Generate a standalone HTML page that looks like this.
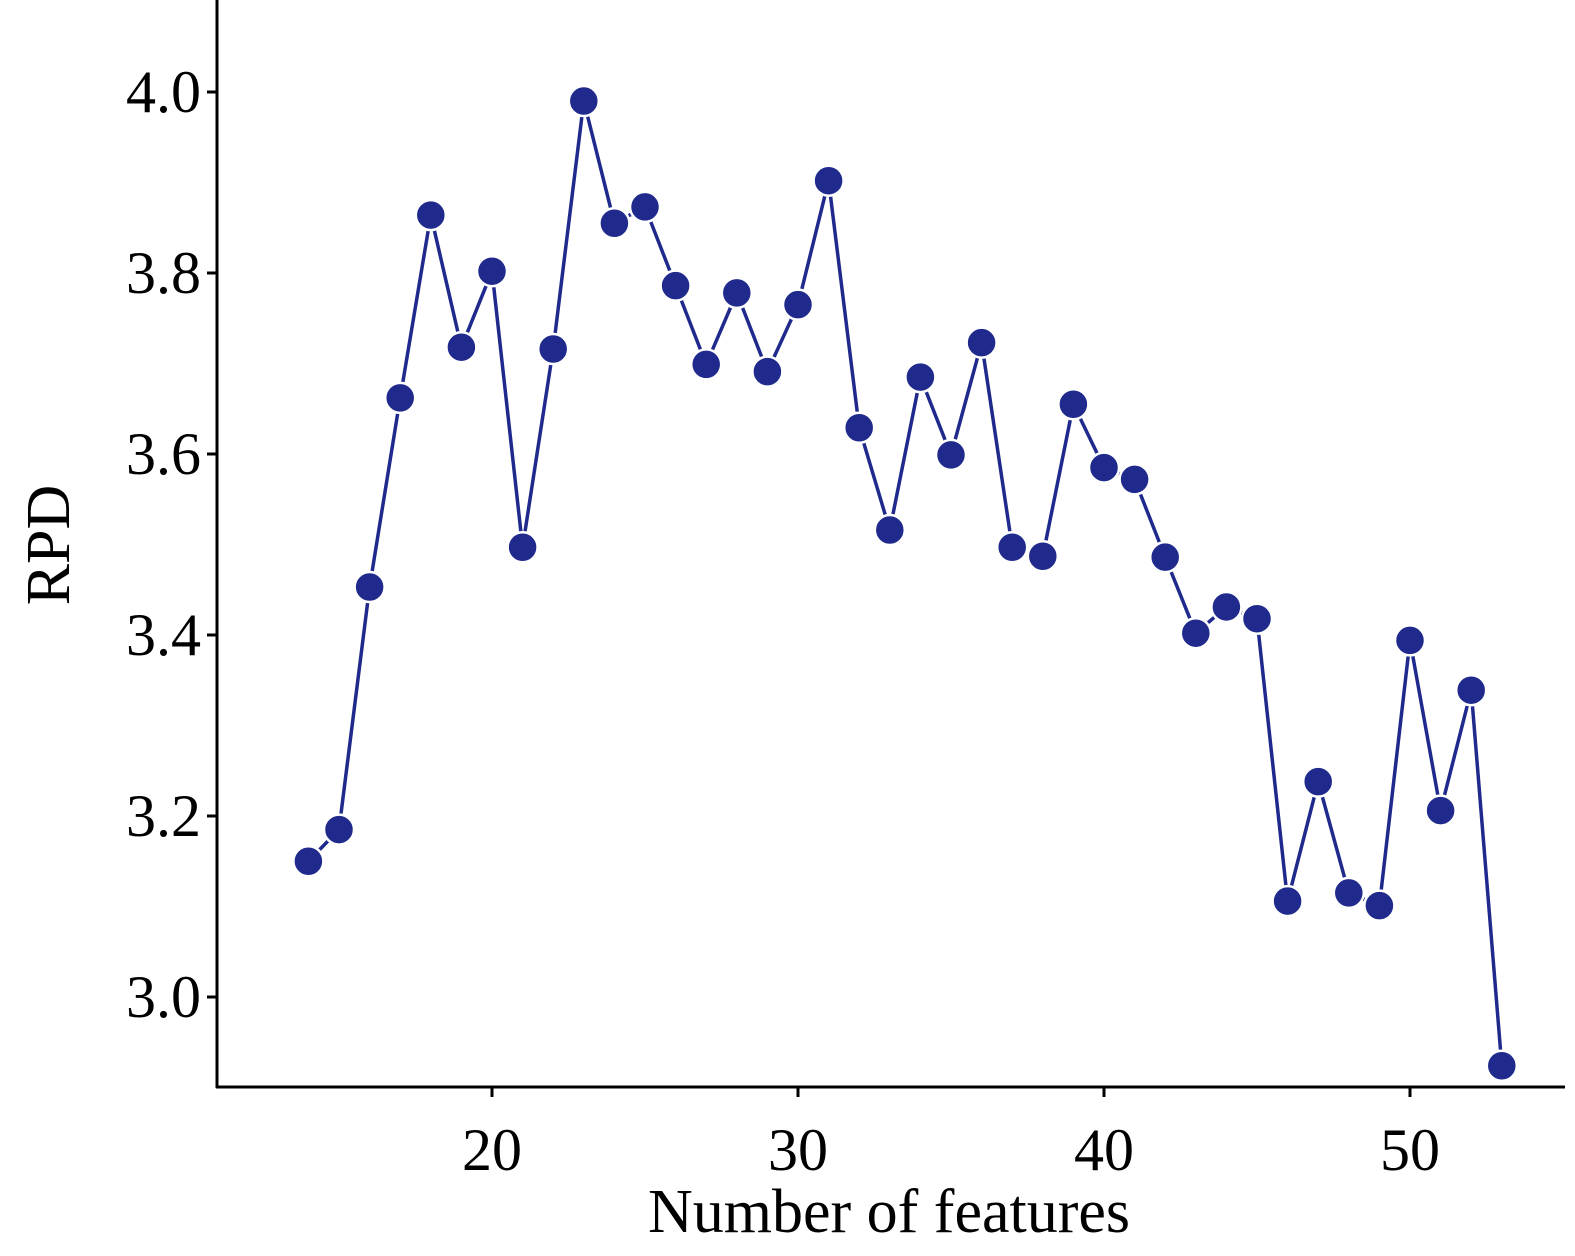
<!DOCTYPE html>
<html><head><meta charset="utf-8"><style>
html,body{margin:0;padding:0;background:#fff;}
svg{display:block;font-family:"Liberation Serif",serif;}
</style></head><body>
<svg id="chart" width="1575" height="1256" viewBox="0 0 1575 1256"></svg>
<script>
const features = [14,15,16,17,18,19,20,21,22,23,24,25,26,27,28,29,30,31,32,33,34,35,36,37,38,39,40,41,42,43,44,45,46,47,48,49,50,51,52,53];
const rpdValues = [3.150,3.185,3.453,3.662,3.864,3.718,3.802,3.497,3.716,3.990,3.855,3.873,3.786,3.699,3.778,3.691,3.765,3.902,3.629,3.516,3.685,3.599,3.723,3.497,3.487,3.655,3.585,3.572,3.486,3.402,3.431,3.418,3.106,3.238,3.115,3.101,3.394,3.206,3.339,2.924];
const yTicks = [3.0,3.2,3.4,3.6,3.8,4.0];
const xTicks = [20,30,40,50];

const NS = "http://www.w3.org/2000/svg";
const svg = document.getElementById('chart');
function xs(v){ return 492 + (v-20)*30.6; }
function ys(v){ return 997 - (v-3.0)*905; }
function mk(tag, attrs){ const e=document.createElementNS(NS,tag); for(const k in attrs) e.setAttribute(k,attrs[k]); svg.appendChild(e); return e; }

const axY = mk('line',{x1:217,y1:0,x2:217,y2:1088,stroke:'#000','stroke-width':3});


const axX = mk('line',{x1:216,y1:1087,x2:1565,y2:1087,stroke:'#000','stroke-width':3});



yTicks.forEach(t=>{
  const y=ys(t);
  const l=mk('line',{x1:207,y1:y,x2:217,y2:y,stroke:'#000','stroke-width':3});
  
  
  const tx=mk('text',{x:201,y:y+20,'text-anchor':'end','font-size':60,fill:'#000'});
  tx.textContent=t.toFixed(1);
  
  
});
xTicks.forEach(t=>{
  const x=xs(t);
  const l=mk('line',{x1:x,y1:1087,x2:x,y2:1097,stroke:'#000','stroke-width':3});
  
  
  const tx=mk('text',{x:x,y:1170,'text-anchor':'middle','font-size':60,fill:'#000'});
  tx.textContent=String(t);
  
  
});

const xt=mk('text',{x:889,y:1232,'text-anchor':'middle','font-size':62,fill:'#000'});
xt.textContent='Number of features';


const yt=mk('text',{x:0,y:0,'text-anchor':'middle','font-size':62,fill:'#000',transform:'translate(69,545) rotate(-90)'});
yt.textContent='RPD';



const pts = features.map((f,i)=>xs(f)+','+ys(rpdValues[i])).join(' ');
const line = mk('polyline',{points:pts,fill:'none',stroke:'#1f2a8c','stroke-width':3.5,'stroke-linejoin':'miter'});


features.forEach((f,i)=>{
  const c=mk('circle',{cx:xs(f),cy:ys(rpdValues[i]),r:15,fill:'#1f2a8c',stroke:'#fff','stroke-width':2.5});
  
  
});
</script>
</body></html>
